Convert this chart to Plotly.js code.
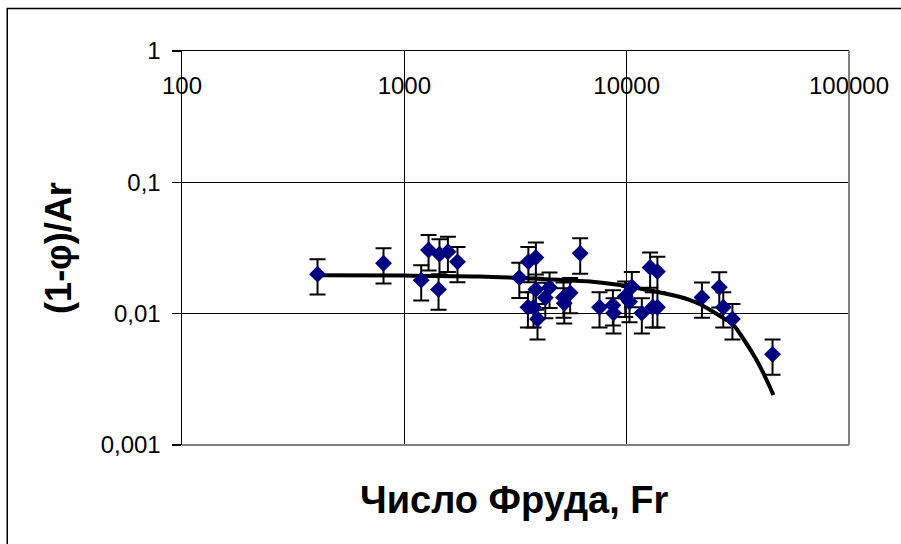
<!DOCTYPE html>
<html>
<head>
<meta charset="utf-8">
<script src="https://cdn.plot.ly/plotly-3.0.1.min.js"></script>
<style>html,body{margin:0;padding:0;background:#fff;}#chart{width:901px;height:544px;}</style>
</head>
<body>
<div id="chart"></div>
<script>
// Experimental points: Froude number Fr and (1-φ)/Ar
const frValues = [407, 806, 1191, 1285, 1439, 1425, 1570, 1734,
  3290, 3614, 3905, 3905, 3597, 3811, 3972, 4306, 4499, 5200, 5240, 5570,
  6180, 7550, 8670, 8730, 9850, 10300, 10550, 11700, 12750, 13750, 13100, 13750,
  21800, 26100, 27200, 29900, 45300];
const phiArValues = [0.0200, 0.0242, 0.0180, 0.0305, 0.0284, 0.0153, 0.0296, 0.0248,
  0.0188, 0.0248, 0.0268, 0.0153, 0.0112, 0.0112, 0.0091, 0.0132, 0.0158, 0.0133, 0.0120, 0.0144,
  0.0288, 0.0112, 0.0116, 0.0101, 0.0135, 0.0123, 0.0160, 0.0101, 0.0225, 0.0209, 0.0112, 0.0112,
  0.0133, 0.0159, 0.0112, 0.0091, 0.0049];
const errorPercent = 30;

// Trend curve
const fitFr = [407, 1000, 2190, 4080, 6850, 9350, 12760, 17400, 19300, 21400, 26300, 30200, 32400, 38500, 43500, 45700];
const fitVal = [0.0196, 0.0195, 0.0192, 0.0184, 0.0176, 0.0165, 0.0150, 0.0134, 0.0127, 0.0118, 0.0096, 0.0082, 0.0070, 0.0044, 0.0029, 0.0024];

// Axis ticks
const xTickVals = [100, 1000, 10000, 100000];
const xTickText = ['100', '1000', '10000', '100000'];
const yTickVals = [1, 0.1, 0.01, 0.001];
const yTickText = ['1', '0,1', '0,01', '0,001'];

const FONT = 'Arial, "Liberation Sans", sans-serif';

const traces = [
  {
    x: fitFr, y: fitVal, type: 'scatter', mode: 'lines',
    line: {color: '#000000', width: 4, shape: 'spline', smoothing: 0.8},
    hoverinfo: 'skip', showlegend: false
  },
  {
    x: frValues, y: phiArValues, type: 'scatter', mode: 'markers',
    marker: {symbol: 'diamond', size: 13, color: '#000080', line: {width: 0}},
    error_y: {type: 'percent', value: errorPercent, color: '#000000', thickness: 2, width: 8},
    showlegend: false
  },
  {
    x: fitFr, y: fitVal, type: 'scatter', mode: 'lines', xaxis: 'x2', yaxis: 'y',
    line: {width: 0, color: 'rgba(0,0,0,0)'}, hoverinfo: 'skip', showlegend: false
  }
];

const layout = {
  width: 901, height: 544,
  margin: {l: 182, r: 52, t: 51, b: 99},
  paper_bgcolor: '#ffffff', plot_bgcolor: '#ffffff',
  font: {family: FONT, color: '#000000', size: 24},
  showlegend: false,
  xaxis: {
    type: 'log', range: [2, 5], side: 'top',
    tickvals: xTickVals, showticklabels: false,
    ticks: 'inside', ticklen: 5, tickcolor: '#000', tickwidth: 1,
    showgrid: true, gridcolor: '#000000', gridwidth: 1,
    showline: true, linecolor: '#000000', linewidth: 1.5,
    zeroline: false, fixedrange: true
  },
  xaxis2: {
    type: 'log', range: [2, 5], overlaying: 'x', anchor: 'free', position: 0.955,
    side: 'bottom', tickvals: xTickVals, ticktext: xTickText,
    ticks: '', showgrid: false, showline: false, zeroline: false,
    tickfont: {family: FONT, size: 24, color: '#000'}
  },
  yaxis: {
    type: 'log', range: [-3, 0],
    tickvals: yTickVals, ticktext: yTickText,
    ticks: 'outside', ticklen: 9, tickcolor: '#000', tickwidth: 1.5,
    ticklabelstandoff: 6,
    tickfont: {family: FONT, size: 24, color: '#000'},
    showgrid: true, gridcolor: '#000000', gridwidth: 1,
    showline: true, linecolor: '#000000', linewidth: 1.5,
    zeroline: false, fixedrange: true,
    title: {text: '<b>(1-φ)/Ar</b>', font: {family: FONT, size: 36, color: '#000'}, standoff: 18}
  },
  shapes: [
    {type: 'line', xref: 'paper', yref: 'paper', x0: 1, x1: 1, y0: 0, y1: 1,
     line: {color: '#808080', width: 2}, layer: 'above'},
    {type: 'line', xref: 'paper', yref: 'paper', x0: 0, x1: 1, y0: 0, y1: 0,
     line: {color: '#808080', width: 2}, layer: 'above'},
    {type: 'rect', xref: 'paper', yref: 'paper', x0: -0.262, x1: 1.3, y0: -0.3, y1: 1.108,
     line: {color: '#000000', width: 1.5}, fillcolor: 'rgba(0,0,0,0)', layer: 'above'}
  ],
  annotations: [
    {text: '<b>Число Фруда, Fr</b>', xref: 'paper', yref: 'paper', x: 0.499, y: -0.14,
     xanchor: 'center', yanchor: 'middle', showarrow: false,
     font: {family: FONT, size: 38, color: '#000'}}
  ]
};

Plotly.newPlot('chart', traces, layout, {displayModeBar: false, staticPlot: true});
</script>
</body>
</html>
